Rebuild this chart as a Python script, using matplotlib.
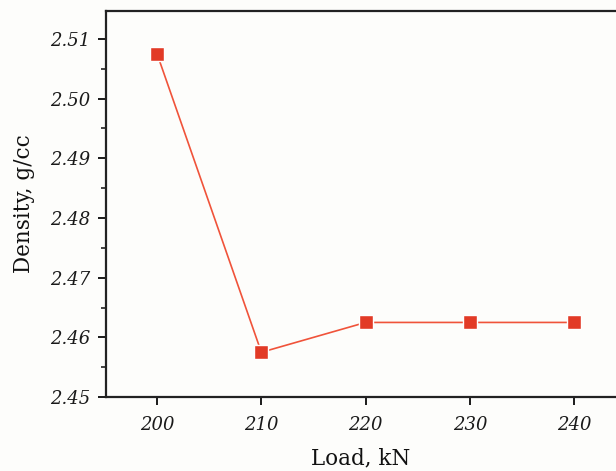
import matplotlib
matplotlib.use("Agg")
import matplotlib.pyplot as plt
from matplotlib.ticker import MultipleLocator

# data
load = [200, 210, 220, 230, 240]
density = [2.5075, 2.4575, 2.4625, 2.4625, 2.4625]

plt.rcParams["font.family"] = ["DejaVu Serif"]

fig = plt.figure(figsize=(6.16, 4.71), dpi=100, facecolor="#fdfdfb")
ax = fig.add_axes([0.172, 0.157, 0.828, 0.82], facecolor="#fdfdfb")

ax.plot(load, density, color="#f0533a", lw=1.2, marker="s", ms=9.5,
        mfc="#e23a26", mec="white", mew=1.0, zorder=3)

ax.set_xlim(195.1, 244.0)
ax.set_ylim(2.45, 2.5147)
ax.set_xticks(load)
ax.yaxis.set_major_locator(MultipleLocator(0.01))
ax.yaxis.set_minor_locator(MultipleLocator(0.005))
ax.yaxis.set_major_formatter(lambda v, p: f"{v:.2f}")

for s in ["left", "bottom", "top"]:
    ax.spines[s].set_linewidth(1.6)
    ax.spines[s].set_color("#222222")
ax.spines["right"].set_visible(False)

ax.tick_params(which="major", direction="out", length=6, width=1.4,
               labelsize=13, colors="#1a1a1a", pad=5)
ax.tick_params(which="minor", direction="out", length=3.5, width=1.2,
               colors="#222222")
ax.tick_params(axis="x", which="both", top=False, pad=8)
for lbl in ax.get_xticklabels() + ax.get_yticklabels():
    lbl.set_fontstyle("italic")

ax.set_xlabel("Load, kN", fontsize=15.5, color="#111111", labelpad=9)
ax.set_ylabel("Density, g/cc", fontsize=15.5, color="#111111", labelpad=11)

fig.savefig("out.png", dpi=100, facecolor=fig.get_facecolor())
